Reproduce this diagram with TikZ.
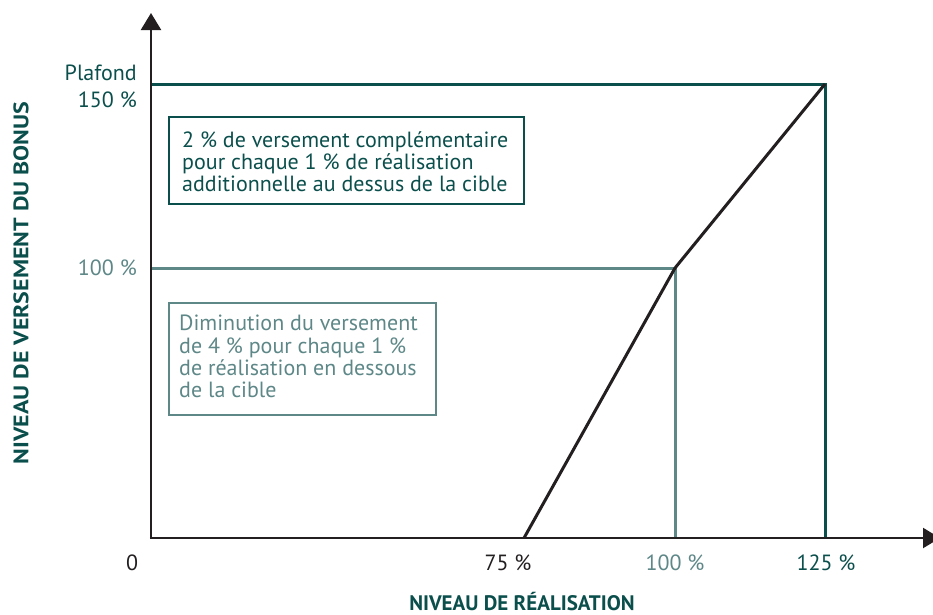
\documentclass[tikz,border=0pt]{standalone}
\usepackage{fontspec}
\setmainfont{PT Sans}
\usetikzlibrary{arrows.meta}
\definecolor{dteal}{HTML}{0B4F4C}
\definecolor{gteal}{HTML}{5E8787}
\definecolor{ink}{HTML}{231F20}
\begin{document}
\begin{tikzpicture}[x=1pt,y=-1pt,
  axis/.style={draw=ink,line width=2.2pt,-{Triangle[length=17pt,width=20pt]}},
  lbl/.style={font=\fontsize{22}{24}\selectfont,inner sep=0pt},
  frame/.style={draw,line width=2pt,anchor=north west,inner sep=0pt},
  btext/.style={align=left,anchor=north west,inner sep=0pt,font=\fontsize{22}{22.3}\selectfont},
  title/.style={font=\bfseries\fontsize{21}{22}\selectfont,text=dteal,inner sep=0pt}]
\useasboundingbox (0,0) rectangle (933,614);
\coordinate (O) at (151,538);
\coordinate (ytop) at (151,13);
\coordinate (xend) at (940,538);
\coordinate (p75) at (524,538);
\coordinate (p100) at (675,268);
\coordinate (p125) at (825,84);
\coordinate (y150) at (151,84);
\coordinate (y100) at (151,268);
\coordinate (x100) at (675,538);
\coordinate (x125) at (825,538);
% reference lines
\draw[dteal,line width=3pt] (y150) -- (p125) -- (x125);
\draw[gteal,line width=3pt] (y100) -- (p100) -- (x100);
% curve
\draw[ink,line width=3pt] (p75) -- (p100) -- (p125);
% axes
\draw[axis] (O) -- (ytop);
\draw[axis] ([xshift=-1.1pt]O) -- (xend);
% boxes
\node[frame,draw=dteal,minimum width=355pt,minimum height=87pt] (b1) at (168,116) {};
\node[btext,text=dteal] (t1) at (182,131)
  {2 \% de versement complémentaire\\pour chaque 1 \% de réalisation\\additionnelle au dessus de la cible};
\node[frame,draw=gteal,minimum width=267pt,minimum height=112pt] (b2) at (168,302) {};
\node[btext,text=gteal] (t2) at (179,315)
  {Diminution du versement\\de 4 \% pour chaque 1 \%\\de réalisation en dessous\\de la cible};
% labels
\node[lbl,text=dteal,anchor=east] (plaf) at (137,73) {Plafond};
\node[lbl,text=dteal,anchor=east] (l150) at (137,100) {150 \%};
\node[lbl,text=gteal,anchor=east] (l100) at (137,268) {100 \%};
\node[lbl,text=ink] (l0) at (132,563) {0};
\node[lbl,text=ink] (l75) at (508,563) {75 \%};
\node[lbl,text=gteal] (lx100) at (675,563) {100 \%};
\node[lbl,text=dteal] (l125) at (826,563) {125 \%};
\node[title] (xt) at (522,601) {NIVEAU DE RÉALISATION};
\node[title,rotate=90] (yt) at (21,283) {\scalebox{1.14}[1]{NIVEAU DE VERSEMENT DU BONUS}};
\end{tikzpicture}
\end{document}
